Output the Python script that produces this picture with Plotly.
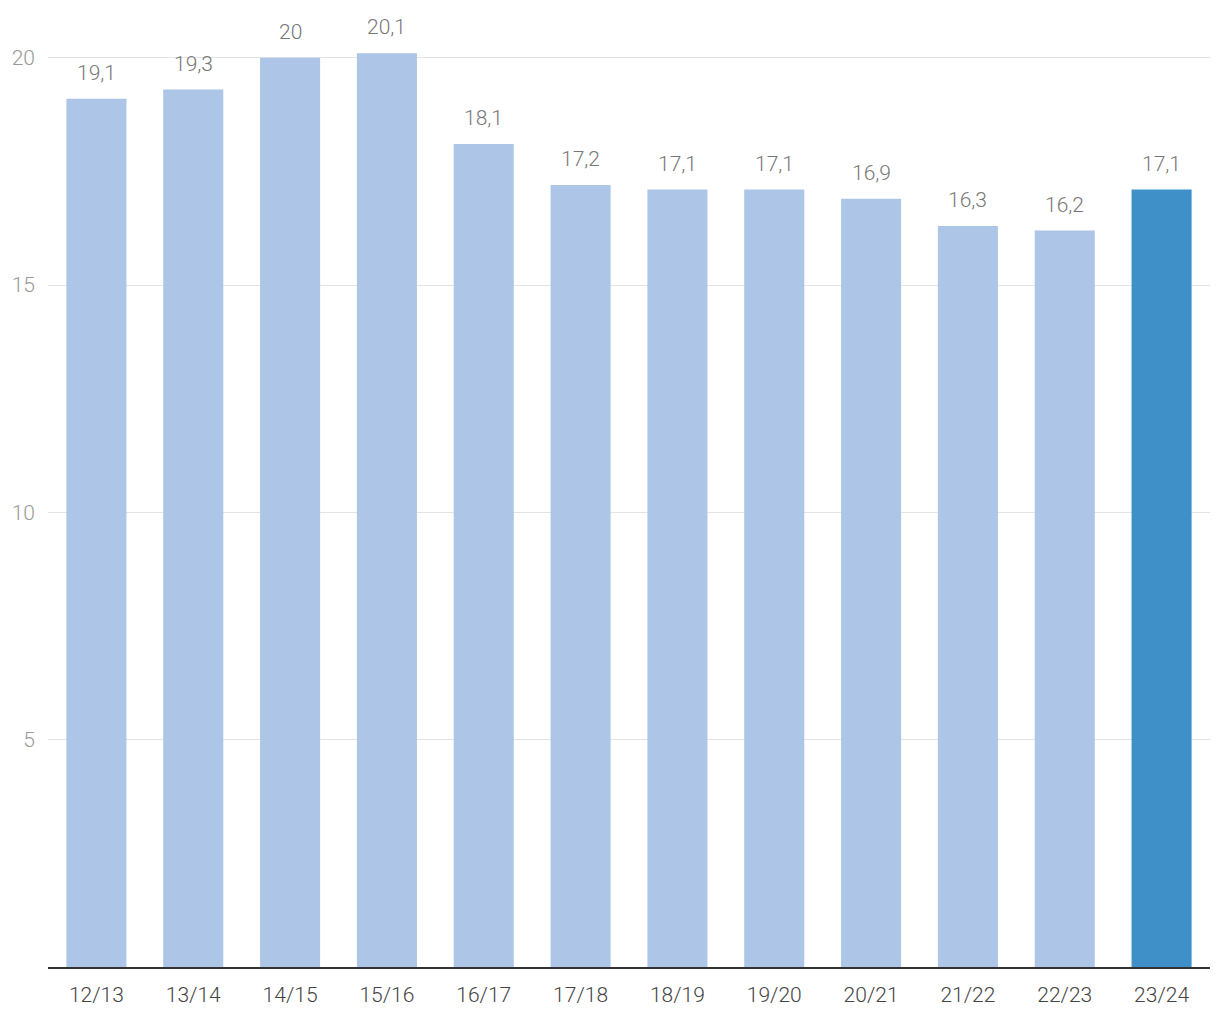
import plotly.graph_objects as go

categories = ["12/13", "13/14", "14/15", "15/16", "16/17", "17/18", "18/19", "19/20", "20/21", "21/22", "22/23", "23/24"]
values = [19.1, 19.3, 20, 20.1, 18.1, 17.2, 17.1, 17.1, 16.9, 16.3, 16.2, 17.1]
labels = ["19,1", "19,3", "20", "20,1", "18,1", "17,2", "17,1", "17,1", "16,9", "16,3", "16,2", "17,1"]
y_ticks = [5, 10, 15, 20]

light = "#adc5e6"
dark = "#3f8fc9"
colors = [light] * (len(values) - 1) + [dark]

FONT = "Roboto"

fig = go.Figure()
fig.add_trace(go.Bar(x=categories, y=values, marker=dict(color=colors, line=dict(width=0)),
                     hoverinfo="skip"))

for c, v, t in zip(categories, values, labels):
    fig.add_annotation(x=c, y=v, text=t, showarrow=False, yanchor="bottom", yshift=12,
                       font=dict(family=FONT, size=21, color="#777777", weight=300))

fig.update_layout(
    width=1220, height=1020,
    margin=dict(l=40, r=18, t=2, b=61),
    paper_bgcolor="white", plot_bgcolor="white",
    bargap=0.38,
    showlegend=False,
    xaxis=dict(showline=True, linecolor="#333333", linewidth=2, ticks="", ticklabelstandoff=8,
               tickfont=dict(family=FONT, size=21, color="#444444", weight=300),
               showgrid=False),
    yaxis=dict(range=[0, 21.05], tickvals=y_ticks, showgrid=True, gridcolor="#e3e3e3", gridwidth=1,
               zeroline=False, showline=False, ticks="", ticklabelstandoff=12,
               tickfont=dict(family=FONT, size=21, color="#999999", weight=300)),
)

fig.write_html("out.html")
